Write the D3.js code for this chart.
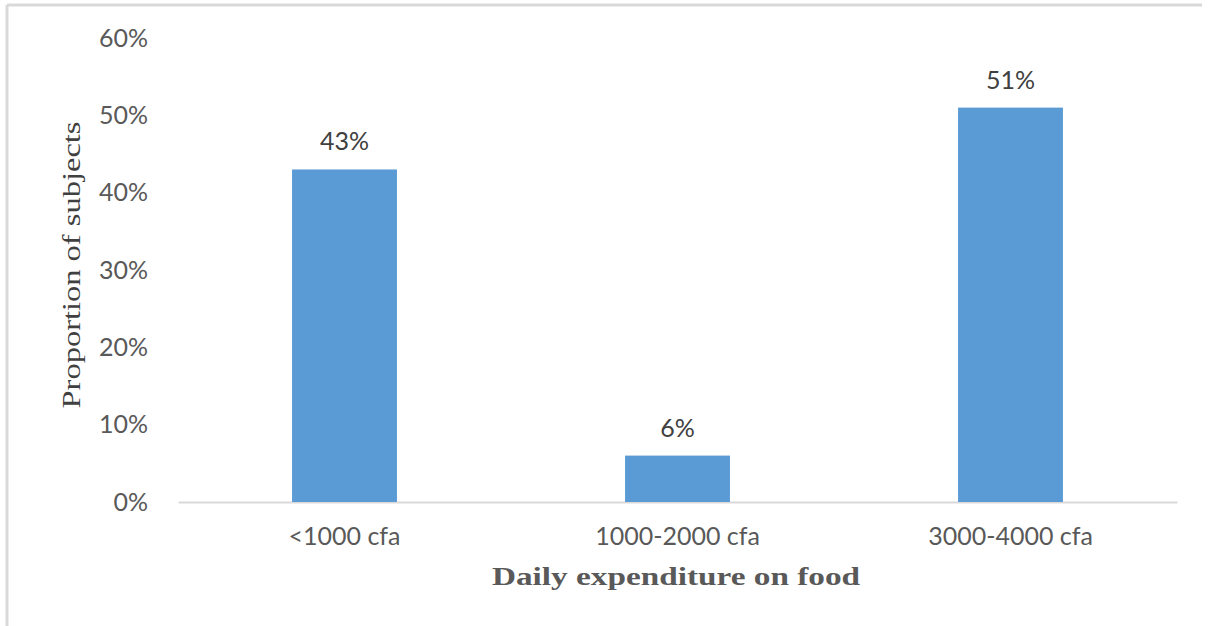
<!DOCTYPE html>
<html>
<head>
<meta charset="utf-8">
<script src="https://cdn.jsdelivr.net/npm/d3@7"></script>
<style>
  body { margin: 0; background: #fff; }
  svg { display: block; }
</style>
</head>
<body>
<div id="chart"></div>
<script>
// data
var categories = ["<1000 cfa", "1000-2000 cfa", "3000-4000 cfa"]
var proportions = [0.43, 0.06, 0.51]
var yTicks = [0, 0.1, 0.2, 0.3, 0.4, 0.5, 0.6]

var width = 1210
var height = 626

var svg = d3.select("#chart")
    .append("svg")
    .attr("width", width)
    .attr("height", height)

// light frame on top and left
svg.append("line")
    .attr("x1", 7).attr("x2", 1202).attr("y1", 5).attr("y2", 5)
    .attr("stroke", "#d9d9d9").attr("stroke-width", 3)
svg.append("line")
    .attr("x1", 7).attr("x2", 7).attr("y1", 5).attr("y2", height)
    .attr("stroke", "#d9d9d9").attr("stroke-width", 3)

var xScale = d3.scaleBand()
    .domain(categories)
    .range([178, 1177])
    .paddingInner(0.685)
    .paddingOuter(0.3425)

var yScale = d3.scaleLinear()
    .domain([0, 0.6])
    .range([502, 38])

var tickFont = "Lato, 'Open Sans', sans-serif"
var tickSize = "25px"

// y axis labels (no line, no ticks)
var yaxis = d3.axisLeft(yScale)
    .tickValues(yTicks)
    .tickFormat(d3.format(".0%"))
    .tickSize(0)
    .tickPadding(0)
var gy = svg.append("g")
    .attr("transform", "translate(148,0)")
    .call(yaxis)
gy.select(".domain").remove()
gy.selectAll("text")
    .attr("font-family", tickFont)
    .attr("font-size", tickSize)
    .attr("fill", "#595959")

// x axis
var xaxis = d3.axisBottom(xScale).tickSize(0).tickPadding(25)
var gx = svg.append("g")
    .attr("transform", "translate(0,502)")
    .call(xaxis)
gx.select(".domain")
    .attr("stroke", "#d9d9d9")
    .attr("stroke-width", 2)
gx.selectAll("text")
    .attr("font-family", tickFont)
    .attr("font-size", tickSize)
    .attr("fill", "#595959")

// bars
var rows = categories.map((c, i) => ({cat: c, val: proportions[i]}))

svg.selectAll("rect.bar")
    .data(rows)
    .enter()
    .append("rect")
    .attr("class", "bar")
    .attr("x", d => xScale(d.cat))
    .attr("y", d => yScale(d.val))
    .attr("width", xScale.bandwidth())
    .attr("height", d => yScale(0) - yScale(d.val))
    .attr("fill", "#5b9bd5")

// value labels
svg.selectAll("text.val")
    .data(rows)
    .enter()
    .append("text")
    .attr("class", "val")
    .attr("x", d => xScale(d.cat) + xScale.bandwidth() / 2)
    .attr("y", d => yScale(d.val) - 19)
    .attr("text-anchor", "middle")
    .attr("font-family", tickFont)
    .attr("font-size", tickSize)
    .attr("fill", "#404040")
    .text(d => Math.round(d.val * 100) + "%")

// axis titles (serif stretched a bit to get the wide garamond look)
svg.append("text")
    .attr("transform", "translate(80,265) rotate(-90) scale(1.25,1)")
    .attr("text-anchor", "middle")
    .attr("font-family", "'Liberation Serif', serif")
    .attr("font-size", "26px")
    .attr("fill", "#404040")
    .text("Proportion of subjects")

svg.append("text")
    .attr("transform", "translate(676,585) scale(1.28,1)")
    .attr("text-anchor", "middle")
    .attr("font-family", "'Liberation Serif', serif")
    .attr("font-weight", "bold")
    .attr("font-size", "26px")
    .attr("fill", "#595959")
    .text("Daily expenditure on food")
</script>
</body>
</html>
